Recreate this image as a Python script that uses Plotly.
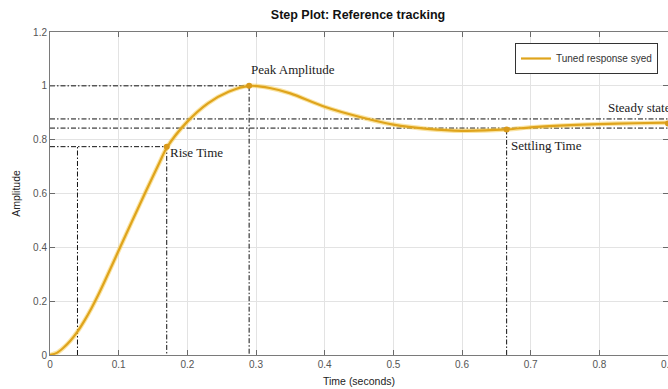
import plotly.graph_objects as go

# ---- data ----
time_s = [0, 0.01, 0.02, 0.03, 0.04, 0.05, 0.06, 0.07, 0.08, 0.1, 0.12, 0.14, 0.16, 0.17,
          0.2, 0.23, 0.26, 0.29, 0.32, 0.35, 0.4, 0.45, 0.5, 0.55, 0.6, 0.665,
          0.7, 0.75, 0.8, 0.85, 0.9]
amplitude = [0, 0.008, 0.028, 0.054, 0.087, 0.127, 0.172, 0.222, 0.276, 0.388, 0.5,
             0.61, 0.718, 0.77, 0.867, 0.935, 0.978, 1.0, 0.992, 0.972, 0.922, 0.885,
             0.856, 0.84, 0.833, 0.838, 0.846, 0.853, 0.858, 0.861, 0.863]

rise_start_t = 0.04
rise_end_t = 0.17
rise_level = 0.774
peak_t = 0.29
peak_amp = 1.0
settle_t = 0.665
settle_amp = 0.838
steady_amp = 0.86
steady_band = [0.877, 0.843]
t_end = 0.9

x_ticks = [0, 0.1, 0.2, 0.3, 0.4, 0.5, 0.6, 0.7, 0.8, 0.9]
x_tick_labels = ["0", "0.1", "0.2", "0.3", "0.4", "0.5", "0.6", "0.7", "0.8", "0.9"]
y_ticks = [0, 0.2, 0.4, 0.6, 0.8, 1.0, 1.2]
y_tick_labels = ["0", "0.2", "0.4", "0.6", "0.8", "1", "1.2"]

curve_color = "#DFA41C"
halo_color = "rgba(245,205,90,0.55)"
marker_color = "#D99A1A"
ref_dash = "5px,2px,1.5px,2px"

fig = go.Figure()

def ref_line(xs, ys):
    fig.add_trace(go.Scatter(x=xs, y=ys, mode="lines", showlegend=False,
                             hoverinfo="skip",
                             line=dict(color="#111111", width=1, dash=ref_dash)))

# steady-state band
for lvl in steady_band:
    ref_line([0, t_end], [lvl, lvl])
# peak
ref_line([0, peak_t, peak_t], [peak_amp, peak_amp, 0])
# rise time
ref_line([rise_start_t, rise_start_t], [0, rise_level])
ref_line([0, rise_end_t, rise_end_t], [rise_level, rise_level, 0])
# settling
ref_line([settle_t, settle_t], [settle_amp, 0])

# response curve (soft halo + core)
fig.add_trace(go.Scatter(x=time_s, y=amplitude, mode="lines", showlegend=False,
                         hoverinfo="skip",
                         line=dict(color=halo_color, width=4.5, shape="spline",
                                   smoothing=0.8)))
fig.add_trace(go.Scatter(x=time_s, y=amplitude, mode="lines",
                         name="Tuned response syed",
                         line=dict(color=curve_color, width=2.2, shape="spline",
                                   smoothing=0.8)))

# characteristic markers
fig.add_trace(go.Scatter(x=[rise_end_t, peak_t, settle_t, t_end],
                         y=[rise_level, peak_amp, settle_amp, steady_amp],
                         mode="markers", showlegend=False, cliponaxis=False,
                         marker=dict(color=marker_color, size=6)))

serif = dict(family="Liberation Serif", size=13, color="#222222")
labels = [
    ("Peak Amplitude", peak_t, 1.06),
    ("Rise Time", rise_end_t + 0.002, 0.754),
    ("Settling Time", settle_t + 0.003, 0.78),
    ("Steady state", 0.81, 0.921),
]
for txt, ax_, ay_ in labels:
    fig.add_annotation(x=ax_, y=ay_, text=txt, showarrow=False, xanchor="left",
                       yanchor="middle", font=serif, xref="x", yref="y")

axis_common = dict(showline=True, linecolor="#7a7a7a", linewidth=1, mirror="ticks",
                   ticks="inside", ticklen=5, tickcolor="#6a6a6a",
                   showgrid=True, gridcolor="#e3e3e3", gridwidth=1, zeroline=False,
                   ticklabeloverflow="allow", automargin=False,
                   tickfont=dict(family="Liberation Sans", size=10, color="#555555"))

fig.update_layout(
    width=668, height=389,
    margin=dict(l=50, r=0, t=32, b=34, autoexpand=False),
    plot_bgcolor="white", paper_bgcolor="white",
    title=dict(text="<b>Step Plot: Reference tracking</b>", x=358 / 668,
               xanchor="center", xref="container",
               y=1 - 15 / 389, yanchor="middle",
               font=dict(family="Liberation Sans", size=12.5, color="#111111")),
    xaxis=dict(range=[0, t_end], tickvals=x_ticks, ticktext=x_tick_labels,
               title=dict(text="Time (seconds)", standoff=8,
                          font=dict(family="Liberation Sans", size=10.5, color="#222222")),
               **axis_common),
    yaxis=dict(range=[0, 1.2], tickvals=y_ticks, ticktext=y_tick_labels,
               title=dict(text="Amplitude", standoff=10,
                          font=dict(family="Liberation Sans", size=10.5, color="#222222")),
               **axis_common),
    legend=dict(x=(658 - 50) / 618, y=(355 - 43) / 323, xanchor="right", yanchor="top",
                bgcolor="white", bordercolor="#333333", borderwidth=1,
                font=dict(family="Liberation Sans", size=10, color="#333333"),
                itemwidth=30, tracegroupgap=0),
    showlegend=True,
)

fig.write_html("out.html")
